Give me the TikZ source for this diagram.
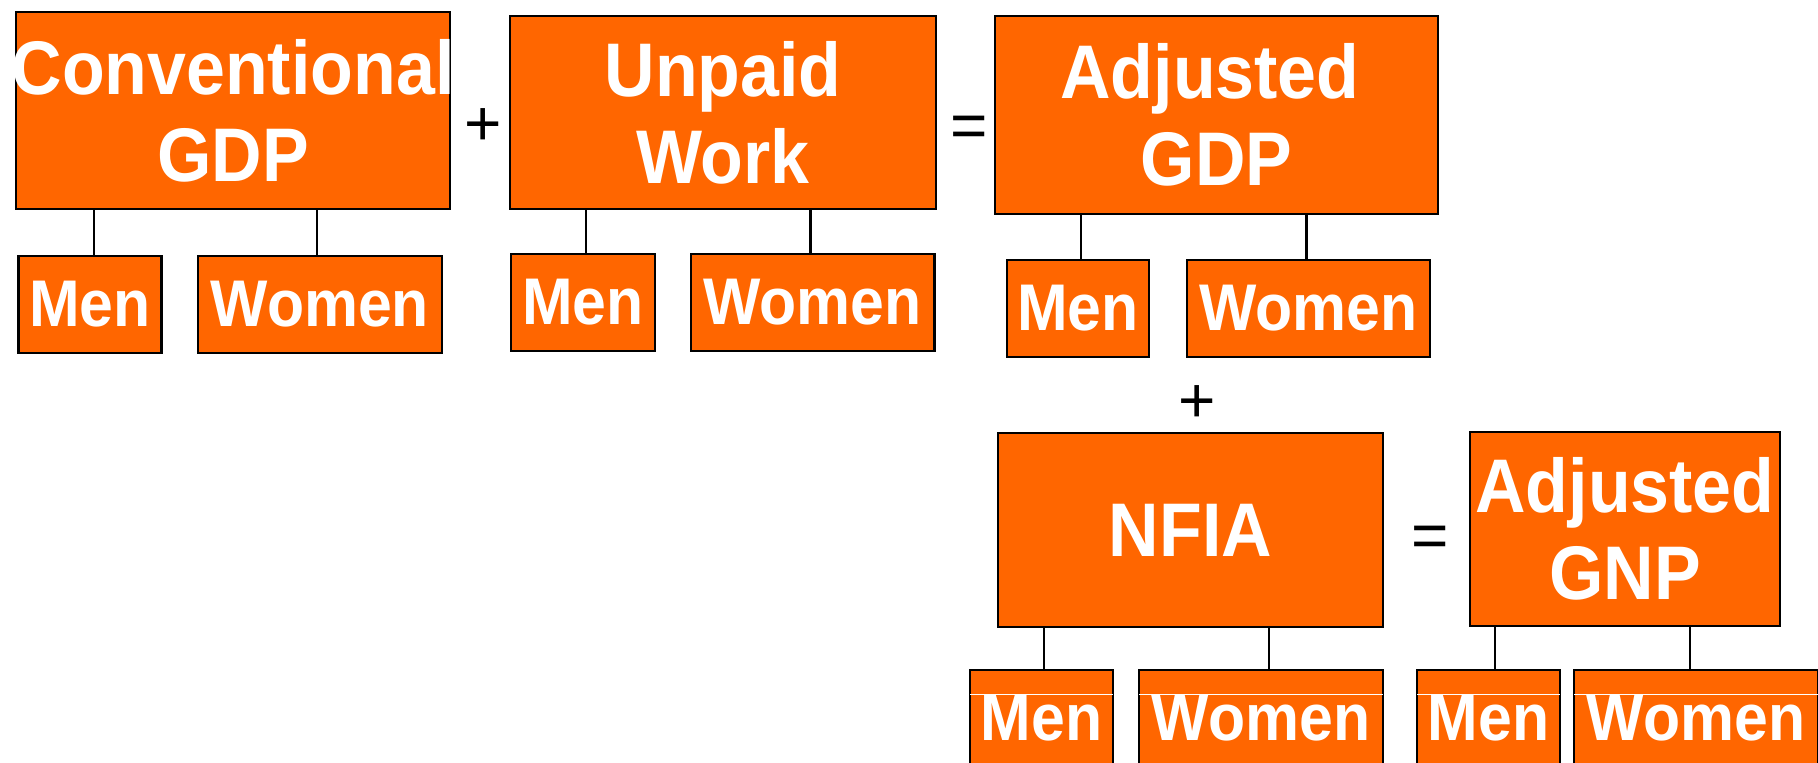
\documentclass[tikz,border=0pt]{standalone}
\usepackage{fontspec}
\setmainfont{Liberation Sans}
\newfontfamily\lbl{Liberation Sans}[FakeStretch=0.92]
\definecolor{boxorange}{HTML}{FF6600}
\begin{document}
\begin{tikzpicture}[x=1pt,y=-1pt,
  boxbase/.style={draw=black, line width=2.8pt, fill=boxorange, inner sep=0pt},
  bigtext/.style={text=white, inner sep=0pt, align=center, font=\lbl\bfseries\fontsize{76}{87}\selectfont},
  smallbox/.style={boxbase, text=white, minimum height=97pt, font=\lbl\bfseries\fontsize{66}{70}\selectfont},
  link/.style={draw=black, line width=2.7pt},
  op/.style={inner sep=0pt, font=\fontsize{64}{64}\selectfont},
  seam/.style={draw=white, line width=1pt}]
\useasboundingbox (0,0) rectangle (1818,763);
\clip (0,0) rectangle (1818,763);
% big boxes
\node[boxbase, minimum width=434pt, minimum height=197pt] (cgdp) at (233,110.5) {};
\node[boxbase, minimum width=426pt, minimum height=193pt] (unp) at (723,112.5) {};
\node[boxbase, minimum width=443pt, minimum height=198pt] (agdp) at (1216.5,115) {};
\node[boxbase, minimum width=385pt, minimum height=194pt] (nfia) at (1190.5,530) {};
\node[boxbase, minimum width=310pt, minimum height=194pt] (agnp) at (1625,529) {};
\node[bigtext] (cgdpt) at (cgdp.center) {Conventional\\GDP};
\node[bigtext] (unpt) at (unp.center) {Unpaid\\Work};
\node[bigtext] (agdpt) at (agdp.center) {\kern1pt Adjusted\kern14pt\\GDP};
\node[bigtext] (nfiat) at (nfia.center) {NFIA};
\node[bigtext] (agnpt) at (agnp.center) {Adjusted\\GNP};
% small boxes
\node[smallbox, minimum width=143pt] (cm) at (90,304.5) {Men};
\node[smallbox, minimum width=244pt] (cw) at (320,304.5) {Women};
\node[smallbox, minimum width=144pt] (um) at (583,302.5) {Men};
\node[smallbox, minimum width=243.5pt] (uw) at (812.7,302.5) {Women};
\node[smallbox, minimum width=142pt] (am) at (1078,308.5) {Men};
\node[smallbox, minimum width=243pt] (aw) at (1308.5,308.5) {Women};
\node[smallbox, minimum width=143pt] (nm) at (1041.5,718.5) {Men};
\node[smallbox, minimum width=244pt] (nw) at (1261,718.5) {Women};
\node[smallbox, minimum width=143pt] (gm) at (1488.5,718.5) {Men};
\node[smallbox, minimum width=244pt] (gw) at (1696,718.5) {Women};
% seams in bottom row
\foreach \b in {nm,nw,gm,gw}{
  \draw[seam] ([xshift=1.5pt,yshift=-26pt]\b.north west) -- ([xshift=-1.5pt,yshift=-26pt]\b.north east);
}
% connectors
\draw[link] ([xshift=4pt]cm.north) -- ([xshift=4pt]cm.north |- cgdp.south);
\draw[link] ([xshift=-3pt]cw.north) -- ([xshift=-3pt]cw.north |- cgdp.south);
\draw[link] ([xshift=3pt]um.north) -- ([xshift=3pt]um.north |- unp.south);
\draw[link] ([xshift=-2pt]uw.north) -- ([xshift=-2pt]uw.north |- unp.south);
\draw[link] ([xshift=3pt]am.north) -- ([xshift=3pt]am.north |- agdp.south);
\draw[link] ([xshift=-2pt]aw.north) -- ([xshift=-2pt]aw.north |- agdp.south);
\draw[link] ([xshift=2.5pt]nm.north) -- ([xshift=2.5pt]nm.north |- nfia.south);
\draw[link] ([xshift=8pt]nw.north) -- ([xshift=8pt]nw.north |- nfia.south);
\draw[link] ([xshift=6.5pt]gm.north) -- ([xshift=6.5pt]gm.north |- agnp.south);
\draw[link] ([xshift=-6pt]gw.north) -- ([xshift=-6pt]gw.north |- agnp.south);
% operators
\node[op] (plus1) at (483.5,126.7) {+};
\node[op] (eq1) at (969,132) {=};
\node[op] (plus2) at (1197.6,403.7) {+};
\node[op] (eq2) at (1430,541.7) {=};
\end{tikzpicture}
\end{document}
